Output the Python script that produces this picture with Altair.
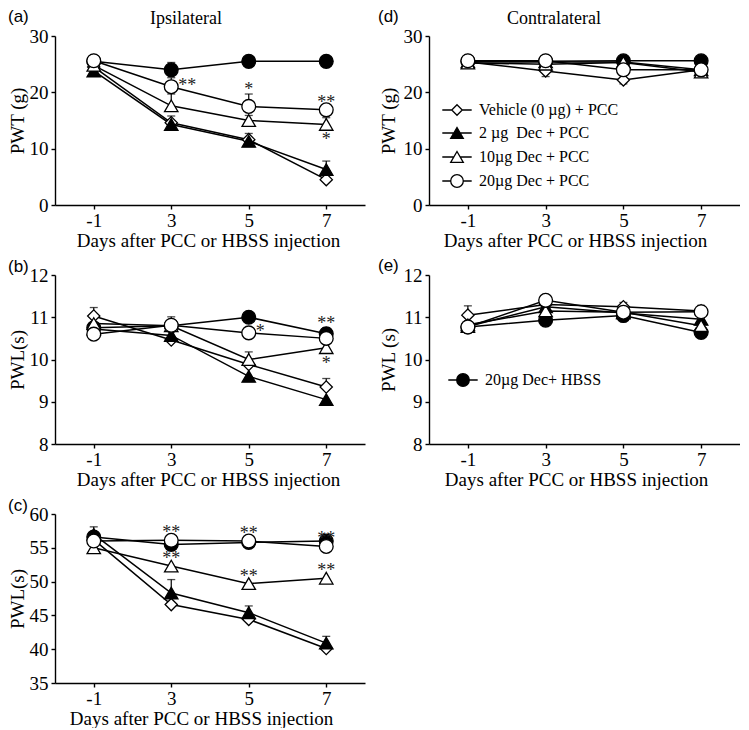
import altair as alt
import pandas as pd

SERIF = "Liberation Serif"
SANS = "Liberation Sans"

DAYS = ["-1", "3", "5", "7"]
HBSS = "20µg Dec+ HBSS"
VEH = "Vehicle (0 µg) + PCC"
D2 = "2 µg\u00a0 Dec + PCC"
D10 = "10µg Dec + PCC"
D20 = "20µg Dec + PCC"
SERIES = [HBSS, VEH, D2, D10, D20]  # drawing order (last on top)
PCC_SERIES = [VEH, D2, D10, D20]

X_TITLE = "Days after PCC or HBSS injection"

# ---- (a) Ipsilateral PWT (g)
A_VAL = {HBSS: [25.5, 24.0, 25.5, 25.5], VEH: [24.5, 14.6, 11.6, 4.5],
         D2: [23.8, 14.3, 11.3, 6.3], D10: [24.8, 17.6, 15.0, 14.3],
         D20: [25.6, 21.0, 17.5, 16.9]}
A_ERR = {HBSS: [0, 1.3, 0, 0], VEH: [0, 0, 0, 0], D2: [0, 1.5, 1.4, 1.5],
         D10: [0, 2.1, 0.9, 1.2], D20: [0, 1.6, 2.2, 0]}
# ---- (b) Ipsilateral PWL(s)
B_VAL = {HBSS: [10.75, 10.8, 11.0, 10.61], VEH: [11.03, 10.46, 9.88, 9.35],
         D2: [10.72, 10.57, 9.6, 9.05], D10: [10.85, 10.8, 10.0, 10.28],
         D20: [10.6, 10.81, 10.63, 10.5]}
B_ERR = {HBSS: [0, 0, 0, 0], VEH: [0.2, 0, 0, 0.2], D2: [0, 0, 0, 0],
         D10: [0, 0, 0.18, 0], D20: [0, 0.2, 0, 0.25]}
# ---- (c) Ipsilateral PWL(s)
C_VAL = {HBSS: [56.6, 55.5, 55.8, 56.0], VEH: [56.2, 46.6, 44.4, 40.1],
         D2: [57.0, 48.3, 45.4, 40.9], D10: [55.0, 52.3, 49.7, 50.5],
         D20: [56.0, 56.1, 56.0, 55.2]}
C_ERR = {HBSS: [0, 0, 0, 0], VEH: [0, 0, 0, 0], D2: [1.1, 2.0, 1.0, 1.0],
         D10: [0, 0, 0, 0], D20: [0, 0, 0, 0]}
# ---- (d) Contralateral PWT (g)
D_VAL = {HBSS: [25.5, 25.5, 25.6, 25.6], VEH: [25.4, 23.8, 22.2, 24.0],
         D2: [25.4, 25.4, 25.4, 24.0], D10: [25.2, 25.0, 25.3, 23.6],
         D20: [25.6, 25.6, 24.0, 24.0]}
D_ERR = {HBSS: [0, 0, 0, 0], VEH: [0, -1.0, -0.7, 0], D2: [0, 0, 0, 0],
         D10: [0, 0, 0, 0], D20: [0, 0, 0, 0]}
# ---- (e) Contralateral PWL (s)
E_VAL = {HBSS: [10.77, 10.93, 11.04, 10.64], VEH: [11.05, 11.3, 11.25, 11.15],
         D2: [10.78, 11.25, 11.1, 10.95], D10: [10.82, 11.15, 11.12, 10.8],
         D20: [10.77, 11.4, 11.12, 11.13]}
E_ERR = {HBSS: [0, 0, 0, 0], VEH: [0.22, 0, 0.1, 0.13], D2: [0, 0, 0, 0],
         D10: [0, 0, 0, 0], D20: [0, 0, 0, 0]}

# significance marks: panel, series, day, text, placement
STARS = [
    ("a", D20, "3", "**", "right"), ("a", D20, "5", "*", "above"),
    ("a", D20, "7", "**", "above"), ("a", D10, "7", "*", "below"),
    ("b", D20, "5", "*", "right"), ("b", D20, "7", "**", "above"),
    ("b", D10, "7", "*", "below"),
    ("c", D20, "3", "**", "above"), ("c", D20, "5", "**", "above"),
    ("c", D20, "7", "**", "above"), ("c", D10, "3", "**", "above"),
    ("c", D10, "5", "**", "above"), ("c", D10, "7", "**", "above"),
]

SHAPE = {HBSS: "circle", VEH: "diamond", D2: "triangle-up", D10: "triangle-up", D20: "circle"}
FILL = {HBSS: "black", VEH: "white", D2: "black", D10: "white", D20: "white"}
SIZE = {"circle": 190, "diamond": 150, "triangle-up": 180}
LEGEND_PATH = {
    VEH: "M-2.1,0H-0.75M0.75,0H2.1M0,-0.75L0.75,0L0,0.75L-0.75,0Z",
    D2: "M-2.1,0H-0.45M0.45,0H2.1M0,-0.78L0.9,0.78L-0.9,0.78Z",
    D10: "M-2.1,0H-0.45M0.45,0H2.1M0,-0.78L0.9,0.78L-0.9,0.78Z",
    D20: "M-2.1,0H-0.9M0.9,0H2.1M-0.9,0A0.9,0.9,0,1,1,0.9,0A0.9,0.9,0,1,1,-0.9,0Z",
    HBSS: "M-2.1,0H-0.9M0.9,0H2.1M-0.9,0A0.9,0.9,0,1,1,0.9,0A0.9,0.9,0,1,1,-0.9,0Z",
}

H = 169


def long_df(vals, errs):
    rows = []
    for s in SERIES:
        for i, d in enumerate(DAYS):
            rows.append({"series": s, "day": d, "dnum": i, "value": vals[s][i], "err": errs[s][i]})
    return pd.DataFrame(rows)


def legend_layer(names, lx, ly):
    leg = alt.Legend(title=None, orient="none", legendX=lx, legendY=ly,
                     labelFont=SERIF, labelFontSize=16, labelColor="black",
                     symbolSize=196, symbolStrokeWidth=1.3,
                     rowPadding=6, labelOffset=14, padding=0, labelLimit=400)
    df = pd.DataFrame({"series": names})
    return alt.Chart(df).transform_filter("false").mark_point(
        filled=True, strokeWidth=1.3, opacity=1
    ).encode(
        shape=alt.Shape("series:N", scale=alt.Scale(domain=names, range=[LEGEND_PATH[n] for n in names]), legend=leg),
        fill=alt.Fill("series:N", scale=alt.Scale(domain=names, range=[FILL[n] for n in names]), legend=leg),
        stroke=alt.Stroke("series:N", scale=alt.Scale(domain=names, range=["black"] * len(names)), legend=leg),
    )


def panel(key, vals, errs, ytitle, ydom, yticks, width, label, label_x, label_y,
          ytitle_x, xtitle_x, xtitle_y=41, header=None, header_x=0, legend=None):
    df = long_df(vals, errs)
    xaxis = alt.Axis(title=X_TITLE, labelAngle=0, titleX=xtitle_x, titleY=xtitle_y,
                     titleBaseline="alphabetic", titleAlign="center", labelPadding=2)
    X = alt.X("day:O", sort=DAYS, scale=alt.Scale(type="point", padding=0.5), axis=xaxis)
    yaxis = alt.Axis(title=ytitle, values=yticks, titleX=ytitle_x, titleY=H / 2, titleAngle=270,
                     titleAlign="center", titleBaseline="alphabetic")
    yscale = alt.Scale(domain=ydom, nice=False, zero=False)

    def Y(field):
        return alt.Y(field, scale=yscale, axis=yaxis)

    base = alt.Chart(df)
    layers = [
        base.mark_line(color="black", strokeWidth=1.5).encode(
            x=X, y=Y("value:Q"), detail="series:N", order="dnum:Q"),
    ]
    eb = base.transform_filter("datum.err != 0").transform_calculate(hi="datum.value + datum.err")
    layers.append(eb.mark_rule(color="black", strokeWidth=1.2).encode(x=X, y=Y("value:Q"), y2="hi:Q"))
    layers.append(eb.mark_tick(color="black", thickness=1.3, size=8).encode(x=X, y=Y("hi:Q")))
    for s in SERIES:
        shp = SHAPE[s]
        layers.append(
            alt.Chart(df[df.series == s]).mark_point(
                shape=shp, filled=True, fill=FILL[s], stroke="black", strokeWidth=1.3,
                size=SIZE[shp], opacity=1
            ).encode(x=X, y=Y("value:Q"))
        )
    st = [r for r in STARS if r[0] == key]
    if st:
        sdf = pd.DataFrame(st, columns=["panel", "series", "day", "txt", "place"]).merge(df, on=["series", "day"])
        sbase = alt.Chart(sdf).transform_calculate(anchor="datum.value + max(datum.err, 0)")
        common = dict(font=SERIF, fontSize=18, color="#222", baseline="middle")
        layers.append(sbase.transform_filter("datum.place == 'above' && datum.err <= 0")
                      .mark_text(align="center", dy=-7, **common)
                      .encode(x=X, y=Y("anchor:Q"), text="txt:N"))
        layers.append(sbase.transform_filter("datum.place == 'above' && datum.err > 0")
                      .mark_text(align="center", dy=-4, **common)
                      .encode(x=X, y=Y("anchor:Q"), text="txt:N"))
        layers.append(sbase.transform_filter("datum.place == 'right'")
                      .mark_text(align="left", dx=7, dy=-1, **common)
                      .encode(x=X, y=Y("value:Q"), text="txt:N"))
        layers.append(sbase.transform_filter("datum.place == 'below'")
                      .mark_text(align="center", dy=16, **common)
                      .encode(x=X, y=Y("value:Q"), text="txt:N"))
    layers.append(
        alt.Chart(pd.DataFrame({"t": [label]})).mark_text(
            font=SANS, fontSize=17, align="left", baseline="top", color="black"
        ).encode(x=alt.value(label_x), y=alt.value(label_y), text="t:N")
    )
    if header:
        layers.append(
            alt.Chart(pd.DataFrame({"t": [header]})).mark_text(
                font=SERIF, fontSize=18, align="center", baseline="alphabetic", color="black"
            ).encode(x=alt.value(header_x), y=alt.value(-12), text="t:N")
        )
    if legend is not None:
        layers.append(legend)
    return alt.layer(*layers).properties(width=width, height=H)


LW = 310
RW = 311
pa = panel("a", A_VAL, A_ERR, "PWT (g)", [0, 30], [0, 10, 20, 30], LW, "(a)", -47, -27,
           -32, 153, header="Ipsilateral", header_x=131)
pb = panel("b", B_VAL, B_ERR, "PWL(s)", [8, 12], [8, 9, 10, 11, 12], LW, "(b)", -47, -16,
           -32, 153)
pc = panel("c", C_VAL, C_ERR, "PWL(s)", [35, 60], [35, 40, 45, 50, 55, 60], LW, "(c)", -47, -16,
           -32, 146)
pdd = panel("d", D_VAL, D_ERR, "PWT (g)", [0, 30], [0, 10, 20, 30], RW, "(d)", -51, -27,
            -35, 146, header="Contralateral", header_x=125,
            legend=legend_layer(PCC_SERIES, 20, 66))
pe = panel("e", E_VAL, E_ERR, "PWL (s)", [8, 12], [8, 9, 10, 11, 12], RW, "(e)", -51, -17,
           -35, 147, legend=legend_layer([HBSS], 26, 97))

chart = alt.concat(
    pa, pdd, pb, pe, pc, columns=2, spacing={"row": 70, "column": 64}, bounds="flush"
).resolve_scale(
    shape="independent", fill="independent", stroke="independent"
).resolve_legend(
    shape="independent", fill="independent", stroke="independent"
).properties(
    padding=0, background="white"
).configure_axis(
    domainColor="black", domainWidth=1.4, tickColor="black", tickWidth=1.4, tickSize=4,
    labelColor="black", titleColor="black", labelFont=SERIF, titleFont=SERIF,
    labelFontSize=19, titleFontSize=19, titleFontWeight="normal", grid=False, labelPadding=3,
).configure_view(stroke=None)

chart.save("out.html", embed_options={"renderer": "svg", "actions": False})
